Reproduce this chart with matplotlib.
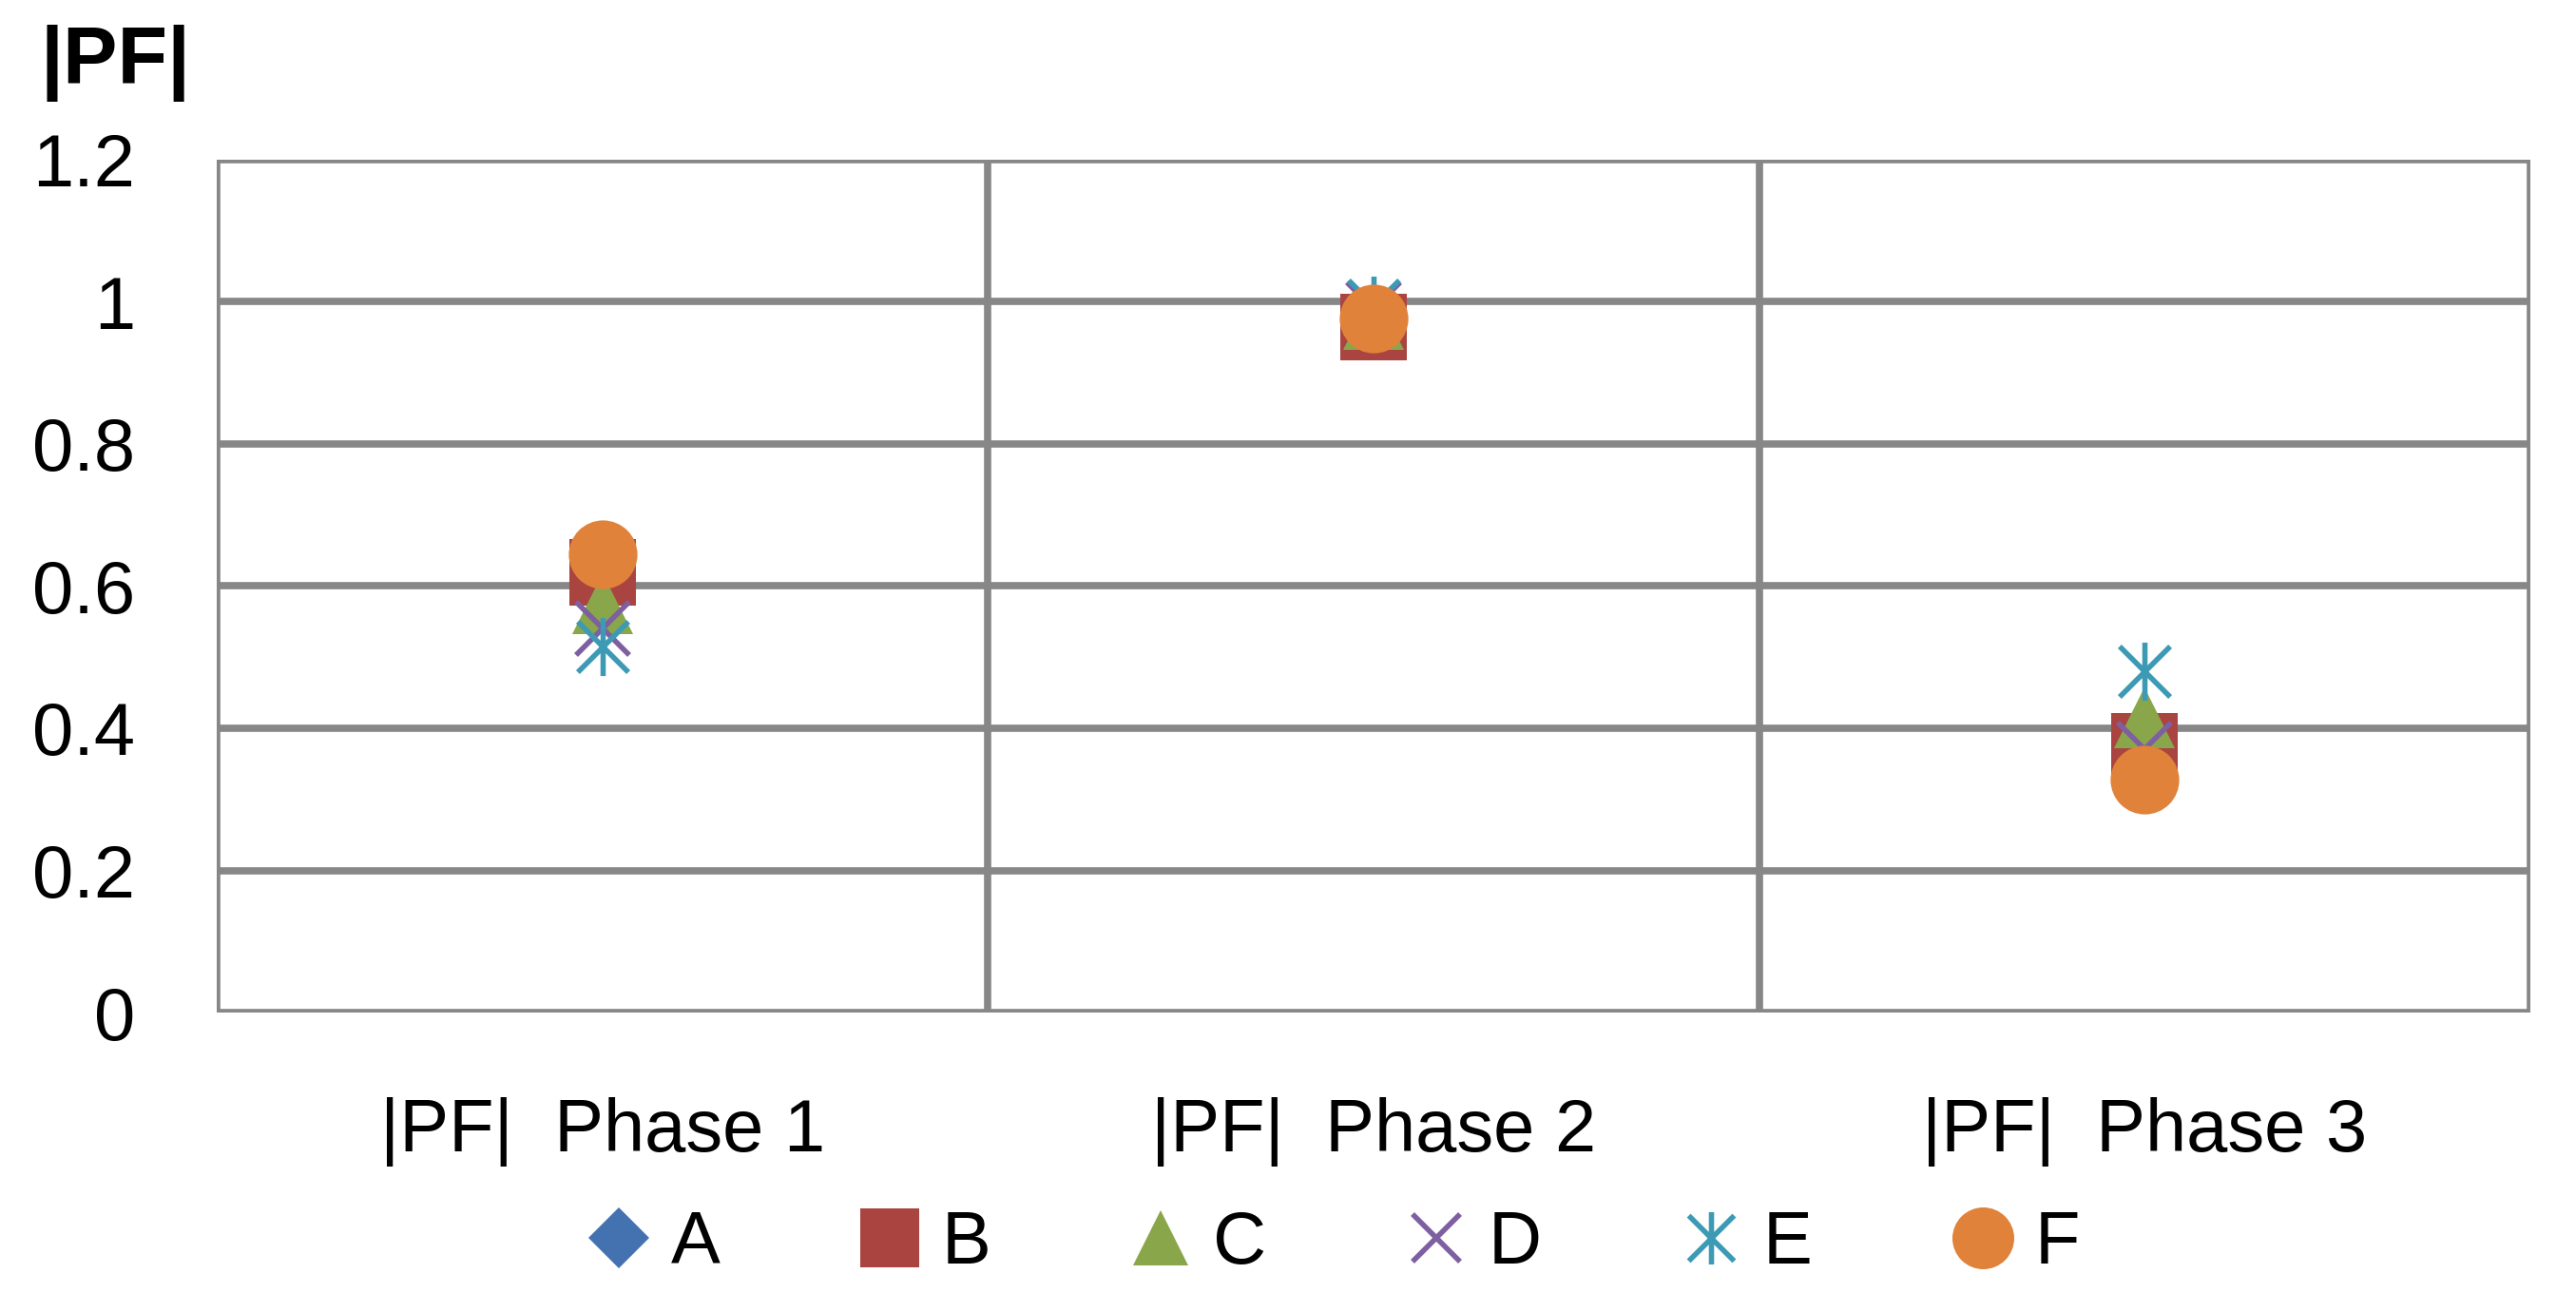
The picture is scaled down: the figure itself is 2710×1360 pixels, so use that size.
import matplotlib.pyplot as plt
from matplotlib.path import Path
import numpy as np

categories = ['|PF|  Phase 1', '|PF|  Phase 2', '|PF|  Phase 3']
series_names = ['A', 'B', 'C', 'D', 'E', 'F']
a_vals = [0.60, 0.97, 0.38]
b_vals = [0.62, 0.965, 0.375]
c_vals = [0.575, 0.975, 0.415]
d_vals = [0.54, 0.99, 0.37]
e_vals = [0.515, 0.995, 0.48]
f_vals = [0.645, 0.977, 0.328]
y_ticks = [0, 0.2, 0.4, 0.6, 0.8, 1, 1.2]

plt.rcParams['font.family'] = ['Liberation Sans', 'DejaVu Sans']

# asterisk = X plus vertical bar
asterisk = Path([(-1, -1), (1, 1), (-1, 1), (1, -1), (0, -1.15), (0, 1.15)],
                [Path.MOVETO, Path.LINETO, Path.MOVETO, Path.LINETO, Path.MOVETO, Path.LINETO])

styles = [
    dict(marker='D', color='#4472B0', ms=36, mew=0),
    dict(marker='s', color='#A94441', ms=50, mew=0),
    dict(marker='^', color='#8AA64B', ms=46, mew=0),
    dict(marker='x', color='#7E5FA0', ms=40, mew=4),
    dict(marker=asterisk, color='#3D9AB5', ms=44, mew=4),
    dict(marker='o', color='#E0823A', ms=52, mew=0),
]
values = [a_vals, b_vals, c_vals, d_vals, e_vals, f_vals]

fig = plt.figure(figsize=(27.1, 13.6), dpi=100)
ax = fig.add_axes([0.0841, 0.2169, 0.8982, 0.6596])

x = np.arange(len(categories))
handles = []
for name, vals, st in zip(series_names, values, styles):
    h, = ax.plot(x, vals, linestyle='none', marker=st['marker'], markersize=st['ms'],
                 markerfacecolor=st['color'], markeredgecolor=st['color'],
                 markeredgewidth=st['mew'], label=name, zorder=3)
    handles.append(h)

ax.set_xlim(-0.5, 2.5)
ax.set_ylim(0, 1.2)
ax.set_yticks(y_ticks)
ax.set_yticklabels(['0', '0.2', '0.4', '0.6', '0.8', '1', '1.2'])
ax.set_xticks(x)
ax.set_xticklabels(categories)
ax.tick_params(axis='both', length=0, labelsize=56)
ax.tick_params(axis='y', pad=62)
ax.tick_params(axis='x', pad=64)

for yv in y_ticks:
    ax.axhline(yv, color='#878787', lw=5.5, zorder=1)
for xv in [-0.5, 0.5, 1.5, 2.5]:
    ax.axvline(xv, color='#878787', lw=5.5, zorder=1)
for sp in ax.spines.values():
    sp.set_visible(False)

fig.text(0.045, 0.951, '|PF|', fontsize=62, fontweight='bold', ha='center', va='center')

fig.legend(handles=handles, loc='center', bbox_to_anchor=(0.518, 0.038), ncol=6,
           frameon=False, fontsize=56, handlelength=0.8, handletextpad=0.3,
           columnspacing=1.9, markerscale=0.9)

fig.savefig('out.png', dpi=100)
